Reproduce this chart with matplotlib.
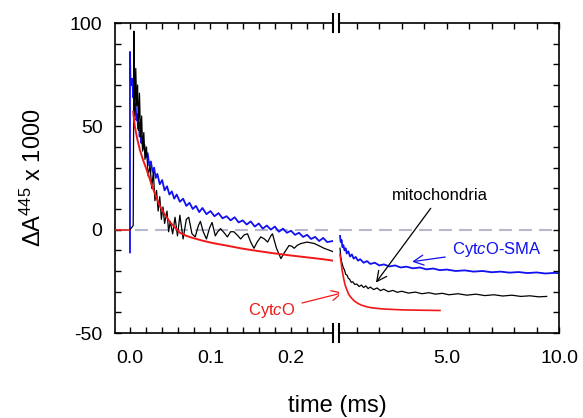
import matplotlib
matplotlib.use('Agg')
import matplotlib.pyplot as plt
from matplotlib.ticker import MultipleLocator, FixedLocator

plt.rcParams['font.family'] = ['Liberation Sans', 'DejaVu Sans']
plt.rcParams['mathtext.fontset'] = 'custom'
plt.rcParams['mathtext.rm'] = 'Liberation Sans'
plt.rcParams['mathtext.it'] = 'Liberation Sans:italic'
plt.rcParams['axes.unicode_minus'] = False

# ---- early time window (0 - 0.25 ms) ----
red_pre_t = [-0.019, 0.0]
red_pre_v = [0.0, 0.0]

red_early_t = [0.004, 0.006, 0.009, 0.0124, 0.016, 0.0207, 0.025, 0.029, 0.033, 0.037,
               0.043, 0.05, 0.056, 0.062, 0.07, 0.078, 0.09, 0.103, 0.12, 0.14,
               0.16, 0.18, 0.2, 0.22, 0.24, 0.252]
red_early_v = [57, 50, 44, 38.5, 34, 29, 24, 19.5, 15.5, 11.5,
               7.5, 3.5, 1, -1.5, -3, -4, -5.3, -6.5, -7.7, -9.2,
               -10.4, -11.5, -12.5, -13.4, -14.3, -15]

blue_early_t = [0.0, 0.0, 0.0005, 0.002, 0.003, 0.004, 0.005, 0.006, 0.007, 0.008,
                0.009, 0.010, 0.011, 0.012, 0.013, 0.014, 0.015, 0.016, 0.018, 0.020,
                0.022, 0.024, 0.026, 0.028, 0.030, 0.032, 0.034, 0.037, 0.040, 0.043,
                0.046, 0.049, 0.052, 0.055, 0.058, 0.062, 0.066, 0.070, 0.074, 0.078,
                0.082, 0.086, 0.090, 0.095, 0.100, 0.105, 0.110, 0.115, 0.120, 0.125,
                0.130, 0.135, 0.140, 0.145, 0.150, 0.155, 0.160, 0.165, 0.170, 0.175,
                0.180, 0.185, 0.190, 0.195, 0.200, 0.205, 0.210, 0.215, 0.220, 0.225,
                0.230, 0.235, 0.240, 0.245, 0.252]
blue_early_v = [-11, 86, 74, 70, 73, 64, 67, 58, 61, 53,
                56, 49, 52, 45, 48, 42, 45, 39, 41, 35,
                37, 31, 33, 28, 30, 25, 27, 22, 24, 19,
                21, 17, 18.5, 15, 17, 13.5, 15, 11.5, 13, 10,
                11.5, 8.5, 10.5, 7.5, 9, 6.5, 8, 5.5, 6.5, 4.5,
                6, 3.5, 4.5, 2.5, 4, 1.5, 3, 0.5, 2, 0,
                1.5, -1, 0.5, -1.5, -0.5, -2.5, -1.5, -3.5, -2.5, -4.5,
                -3.5, -5.5, -4, -6, -5.5]

black_early_t = [0.0, 0.004, 0.005, 0.006, 0.0072, 0.0083, 0.0095, 0.0104, 0.0118, 0.0132,
                 0.0145, 0.0158, 0.0172, 0.0186, 0.0205, 0.0225, 0.025, 0.027, 0.029, 0.031,
                 0.033, 0.035, 0.037, 0.039, 0.041, 0.043, 0.046, 0.048, 0.050, 0.053,
                 0.056, 0.059, 0.062, 0.066, 0.070, 0.073, 0.077, 0.081, 0.085, 0.0875,
                 0.091, 0.095, 0.099, 0.102, 0.106, 0.109, 0.1125, 0.117, 0.121, 0.125,
                 0.129, 0.133, 0.1375, 0.142, 0.146, 0.150, 0.154, 0.158, 0.1625, 0.167,
                 0.171, 0.175, 0.177, 0.182, 0.1875, 0.192, 0.1975, 0.201, 0.204, 0.208,
                 0.2125, 0.22, 0.229, 0.236, 0.241, 0.248, 0.252]
black_early_v = [0, 2, 96, 55, 78, 60, 70, 48, 66, 45,
                 55, 38, 47, 34, 40, 26, 31, 20, 28, 14,
                 19, 9, 16, 5, 11, 3, 9, -1, 4, -2,
                 6, -3, 7, -4.5, 5, 6, -2, -3.5, 2, 4,
                 -1, -4.5, 1, 3.5, -3, -1, 0.5, -1.5, -3.5, -1,
                 -1, -2.5, -4.5, -2.5, -2, -6, -9, -6, -3.5, -4.5,
                 -6, -3, -2, -9, -14, -11, -7.7, -8, -9, -7.5,
                 -6.7, -6, -6.7, -8, -9, -10, -10.6]

# ---- late time window (0.25 - 10 ms) ----
blue_late_t = [0.25, 0.28, 0.32, 0.36, 0.40, 0.45, 0.50, 0.55, 0.62, 0.70,
               0.78, 0.86, 0.95, 1.05, 1.15, 1.3, 1.45, 1.6, 1.8, 2.0,
               2.2, 2.45, 2.7, 2.95, 3.2, 3.5, 3.8, 4.1, 4.4, 4.7,
               5.0, 5.4, 5.8, 6.2, 6.6, 7.0, 7.4, 7.8, 8.2, 8.6,
               9.0, 9.4, 9.8, 10.0]
blue_late_v = [-3, -6, -5, -8.5, -7.5, -10, -9, -11.5, -10.5, -13,
               -12, -14, -13.2, -15, -14.3, -16, -15.2, -16.6, -16, -17.3,
               -16.8, -17.8, -17.3, -18.3, -17.9, -18.7, -18.3, -19.2, -18.8, -19.6,
               -19.3, -20, -19.7, -20.3, -20, -20.6, -20.3, -20.8, -20.5, -21,
               -20.7, -21.2, -20.9, -21.1]

black_late_t = [0.25, 0.28, 0.32, 0.36, 0.40, 0.45, 0.50, 0.56, 0.62, 0.68,
                0.75, 0.82, 0.9, 1.0, 1.1, 1.2, 1.3, 1.4, 1.5, 1.6,
                1.75, 1.9, 2.05, 2.2, 2.4, 2.6, 2.8, 3.0, 3.3, 3.6,
                3.9, 4.2, 4.5, 4.8, 5.1, 5.5, 5.9, 6.3, 6.7, 7.1,
                7.5, 7.9, 8.3, 8.7, 9.1, 9.45]
black_late_v = [-9, -13, -15.5, -17, -18.5, -19.5, -21.5, -22, -23.5, -24,
                -25.5, -25.2, -26.5, -26.3, -27.5, -26.8, -28, -27.2, -28.5, -27.8,
                -29, -28.2, -29.5, -28.8, -30, -29.4, -30.3, -29.8, -30.7, -30.2,
                -31, -30.5, -31.2, -30.8, -31.5, -31, -31.7, -31.2, -31.9, -31.5,
                -32.1, -31.7, -32.3, -32, -32.5, -32.3]

red_late_t = [0.25, 0.30, 0.35, 0.40, 0.47, 0.55, 0.65, 0.77, 0.9, 1.05,
              1.2, 1.4, 1.6, 1.9, 2.2, 2.6, 3.0, 3.5, 4.0, 4.7]
red_late_v = [-12, -16, -20, -23, -26.5, -29, -31.5, -33.2, -34.6, -35.7,
              -36.5, -37.2, -37.7, -38.1, -38.4, -38.6, -38.8, -38.9, -39, -39.1]

BLUE = '#1010f0'
RED = '#f01818'
DASH = '#b8b8cc'

fig = plt.figure(figsize=(5.83, 4.18), dpi=100)
W, H = 583, 418


def box(x0, x1, y0, y1):
    return [x0 / W, 1 - y1 / H, (x1 - x0) / W, (y1 - y0) / H]


ax1 = fig.add_axes(box(115, 333, 23, 333))
ax2 = fig.add_axes(box(339, 559, 23, 333))

for ax in (ax1, ax2):
    ax.set_ylim(-50, 100)
    ax.axhline(0, color=DASH, lw=1.5, dashes=(6.2, 3.4), zorder=1)
    for s in ax.spines.values():
        s.set_linewidth(1.2)
    ax.tick_params(which='both', direction='in', top=True, length=4, width=1,
                   labelsize=14)

# early panel
ax1.plot(red_pre_t, red_pre_v, color=RED, lw=1.1, zorder=3)
ax1.plot(blue_early_t, blue_early_v, color=BLUE, lw=1.3, zorder=2)
ax1.plot(black_early_t, black_early_v, color='black', lw=0.9, zorder=3)
ax1.plot(red_early_t, red_early_v, color=RED, lw=1.4, zorder=4)
ax1.set_xlim(-0.0186, 0.2522)
ax1.xaxis.set_major_locator(FixedLocator([0.0, 0.1, 0.2]))
ax1.set_xticklabels(['0.0', '0.1', '0.2'])
ax1.xaxis.set_minor_locator(MultipleLocator(0.02))
ax1.yaxis.set_major_locator(FixedLocator([-50, 0, 50, 100]))
ax1.yaxis.set_minor_locator(MultipleLocator(10))
ax1.spines['right'].set_visible(False)
ax1.tick_params(which='both', right=False)
ax1.tick_params(axis='x', pad=12)
ax1.tick_params(axis='y', pad=9)

# late panel
ax2.plot(blue_late_t, blue_late_v, color=BLUE, lw=1.3, zorder=2)
ax2.plot(black_late_t, black_late_v, color='black', lw=0.9, zorder=3)
ax2.plot(red_late_t, red_late_v, color=RED, lw=1.2, zorder=4)
ax2.set_xlim(0.205, 10)
ax2.xaxis.set_major_locator(FixedLocator([5, 10]))
ax2.set_xticklabels(['5.0', '10.0'])
ax2.xaxis.set_minor_locator(FixedLocator([1, 2, 3, 4, 6, 7, 8, 9]))
ax2.yaxis.set_major_locator(FixedLocator([-50, 0, 50, 100]))
ax2.yaxis.set_minor_locator(MultipleLocator(10))
ax2.spines['left'].set_visible(False)
ax2.tick_params(which='both', left=False, right=True, labelleft=False)
ax2.tick_params(axis='x', pad=12)

# axis break marks
d = 0.03
for ax, xb in ((ax1, 1.0), (ax2, 0.0)):
    for yb in (0.0, 1.0):
        ax.plot([xb, xb], [yb - d, yb + d], transform=ax.transAxes,
                color='black', lw=1.5, clip_on=False)

# labels
fig.text(0.0566, 0.574, 'ΔA$^{445}$ x 1000', rotation=90, fontsize=17,
         ha='center', va='center')
fig.text(337 / W, 6 / H, 'time (ms)', fontsize=17, ha='center', va='baseline')

# annotations
ax2.annotate('mitochondria', xy=(1.85, -25.6), xytext=(4.7, 16.4),
             fontsize=12, ha='center', va='center', color='black',
             arrowprops=dict(arrowstyle='->,head_length=0.6,head_width=0.3',
                             color='black', lw=0.9, shrinkA=2, shrinkB=0))
ax2.annotate('Cyt$\\it{c}$O-SMA', xy=(3.46, -15.5), xytext=(7.24, -9.7),
             fontsize=12, ha='center', va='center', color=BLUE,
             arrowprops=dict(arrowstyle='->,head_length=0.6,head_width=0.3',
                             color=BLUE, lw=0.9, shrinkA=3, shrinkB=0))
ax1.annotate('Cyt$\\it{c}$O', xy=(0.38, -30.5), xycoords=ax2.transData,
             xytext=(0.176, -39.2), textcoords='data',
             fontsize=12, ha='center', va='center', color=RED,
             annotation_clip=False,
             arrowprops=dict(arrowstyle='->,head_length=0.6,head_width=0.3',
                             color=RED, lw=0.9, shrinkA=3, shrinkB=0))

fig.savefig('out.png', dpi=100)
